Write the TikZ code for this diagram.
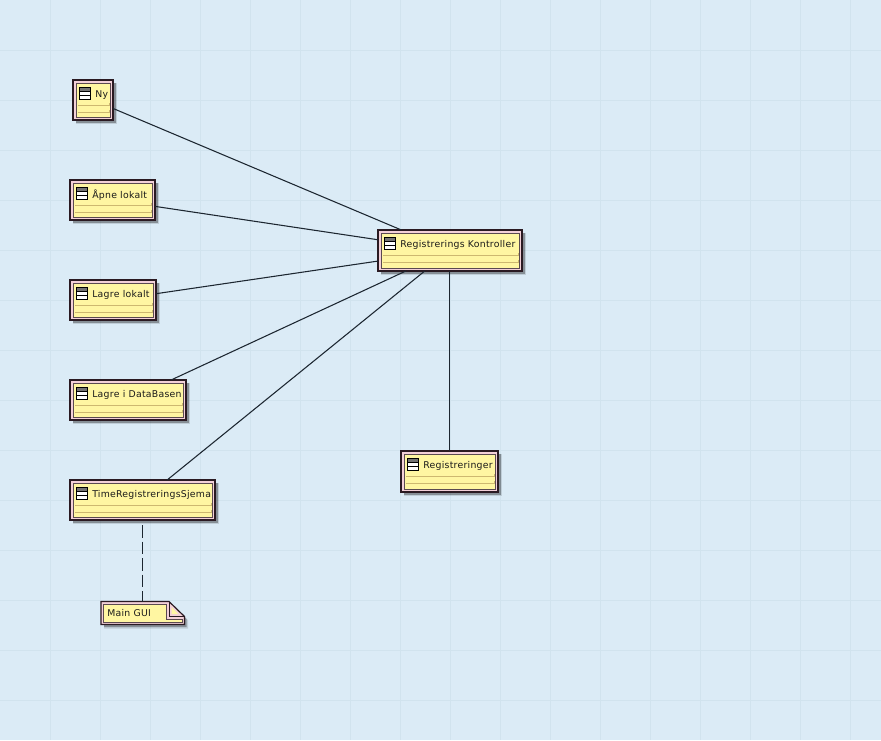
\documentclass[tikz,border=0pt]{standalone}
\usepackage{fontspec}
\setmainfont[LetterSpace=2.8]{DejaVu Sans}
\definecolor{bgc}{HTML}{DBEBF6}
\definecolor{gridc}{HTML}{D1E3EE}
\definecolor{fillc}{HTML}{FFF6A2}
\definecolor{edgec}{HTML}{2A1A22}
\definecolor{pinkc}{HTML}{F3D0D8}
\definecolor{innerc}{HTML}{5A4A50}
\definecolor{tanc}{HTML}{CDB870}
\definecolor{linec}{HTML}{1C2630}
\definecolor{txtc}{HTML}{1A1A1A}
\tikzset{
  x=0.75pt,y=-0.75pt,
  linkline/.style={draw=linec,line width=0.8pt},
  labeltext/.style={anchor=west,inner sep=0pt,text=txtc,font=\fontsize{7}{8}\selectfont},
}
% name, left, top, right, bottom, text
\newcommand{\classbox}[6]{%
  \pgfmathsetmacro{\boxwd}{(#4-#2)*0.75}
  \pgfmathsetmacro{\boxht}{(#5-#3)*0.75}
  \fill[black,opacity=0.12] (#2+3,#3+3) rectangle (#4+4,#5+4);
  \fill[black,opacity=0.30] (#2+3,#3+3) rectangle (#4+2.5,#5+2.5);
  \node[inner sep=0pt,outer sep=0pt,minimum width=\boxwd pt,minimum height=\boxht pt,
        draw=edgec,line width=0.9pt,fill=pinkc] (#1) at ({(#2+#4)/2},{(#3+#5)/2}) {};
  \draw[innerc,line width=0.45pt,fill=fillc] (#2+2.8,#3+2.8) rectangle (#4-2.8,#5-2.8);
  \draw[tanc,line width=0.65pt] (#2+5,#3+25) -- (#4-4,#3+25) -- (#4-4,#3+23);
  \draw[tanc,line width=0.65pt] (#2+5,#3+32) -- (#4-4,#3+32) -- (#4-4,#3+30);
  \fill[white] (#2+6,#3+7) rectangle (#2+17,#3+19.5);
  \fill[black!55] (#2+6,#3+7) rectangle (#2+17,#3+11.5);
  \draw[black,line width=0.7pt] (#2+6,#3+7) rectangle (#2+17,#3+19.5) (#2+6,#3+11.5) -- (#2+17,#3+11.5) (#2+6,#3+15.5) -- (#2+17,#3+15.5);
  \node[labeltext] (#1-label) at (#2+22,#3+15) {#6};
}
\begin{document}
\begin{tikzpicture}
\useasboundingbox (0,0) rectangle (881,740);
\fill[bgc] (0,0) rectangle (881,740);
\foreach \gx in {50,100,...,850} \draw[gridc,line width=0.6pt] (\gx,0) -- (\gx,740);
\foreach \gy in {50,100,...,700} \draw[gridc,line width=0.6pt] (0,\gy) -- (881,\gy);

\node[inner sep=0pt,outer sep=0pt,minimum width=62.25pt,minimum height=17.25pt] (note) at (142.5,613) {};

\classbox{ny}{73}{80}{113}{120}{Ny}
\classbox{apne}{70}{180}{155}{220}{Åpne lokalt}
\classbox{lagre}{70}{280}{156}{320}{Lagre lokalt}
\classbox{lagredb}{70}{380}{186}{420}{Lagre i DataBasen}
\classbox{sjema}{70}{480}{215}{520}{TimeRegistreringsSjema}
\classbox{kontroller}{378}{230}{522}{271}{Registrerings Kontroller}
\classbox{reg}{401}{451}{498}{492}{Registreringer}

% note
\fill[black,opacity=0.12] (104,604) -- (172,604) -- (188,620) -- (188,628.5) -- (104,628.5) -- cycle;
\fill[black,opacity=0.30] (104,604) -- (172,604) -- (186.5,619) -- (186.5,627) -- (104,627) -- cycle;
\draw[edgec,line width=0.9pt,fill=pinkc,line join=miter] (101,601.5) -- (169,601.5) -- (184.5,616.5) -- (184.5,624.5) -- (101,624.5) -- cycle;
\fill[fillc] (103.5,604) -- (166.5,604) -- (166.5,619) -- (182,619) -- (182,622) -- (103.5,622) -- cycle;
\draw[innerc,line width=0.45pt] (103.5,604) -- (166.5,604) -- (166.5,619) -- (182,619) -- (182,622) -- (103.5,622) -- cycle;
\draw[edgec,line width=0.7pt] (169,601.5) -- (169,616.5) -- (184.5,616.5);
\fill[fillc] (171.5,607) -- (171.5,614) -- (178.5,614) -- cycle;
\node[labeltext] (note-label) at (107,613) {Main GUI};

\draw[linkline] (ny) -- (kontroller);
\draw[linkline] (apne) -- (kontroller);
\draw[linkline] (lagre) -- (kontroller);
\draw[linkline] (lagredb) -- (kontroller);
\draw[linkline] (sjema) -- (kontroller);
\draw[linkline] (kontroller.south -| reg.north) -- (reg.north);
\coordinate (dashstart) at (142.5,525);
\draw[linkline,dash pattern=on 9.4pt off 3pt] (dashstart) -- (note.north);
\end{tikzpicture}
\end{document}
